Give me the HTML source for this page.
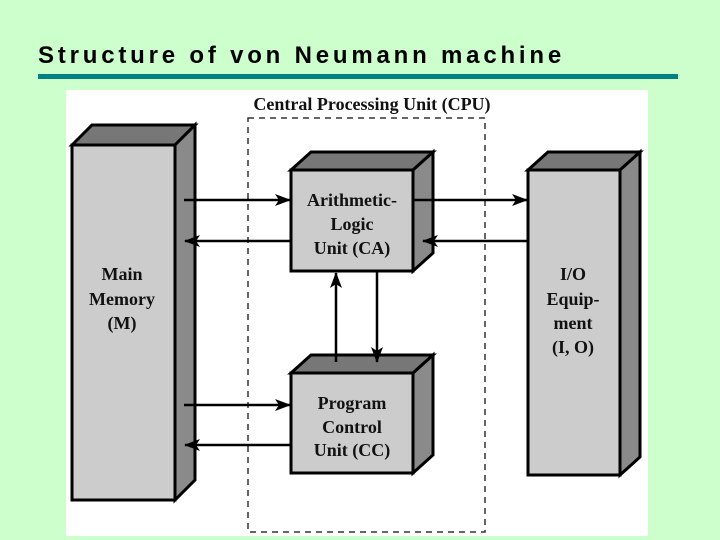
<!DOCTYPE html>
<html><head><style>
body{margin:0;width:720px;height:540px;background:#ccffcc;overflow:hidden;position:relative;font-family:"Liberation Sans",sans-serif}
.t{position:absolute;left:38px;top:42px;font-size:24px;font-weight:bold;letter-spacing:3.8px;color:#000;white-space:nowrap}
.bar{position:absolute;left:38px;top:74px;width:640px;height:5px;background:#008080}
</style></head><body>
<div class="t">Structure of von Neumann machine</div>
<div class="bar"></div>
<svg style="position:absolute;left:0;top:0" width="720" height="540">
<defs><marker id="a" markerWidth="16" markerHeight="12" refX="15" refY="6" orient="auto" markerUnits="userSpaceOnUse"><path d="M0,0 L16,6 L0,12 L4,6z" fill="#000"/></marker></defs>
<rect x="66" y="90" width="582" height="446" fill="#fff"/>
<rect x="248" y="118" width="237" height="414" fill="none" stroke="#333" stroke-width="1.5" stroke-dasharray="6,5"/>
<g stroke="#000" stroke-width="3" stroke-linejoin="miter">
<polygon points="72,145 92,125 195,125 175,145" fill="#777"/>
<polygon points="175,145 195,125 195,480 175,500" fill="#8a8a8a"/>
<rect x="72" y="145" width="103" height="355" fill="#ccc"/>
<polygon points="291,170 311,152 433,152 413,170" fill="#777"/>
<polygon points="413,170 433,152 433,253 413,271" fill="#8a8a8a"/>
<rect x="291" y="170" width="122" height="101" fill="#ccc"/>
<polygon points="291,373 311,355 433,355 413,373" fill="#777"/>
<polygon points="413,373 433,355 433,455 413,473" fill="#8a8a8a"/>
<rect x="291" y="373" width="122" height="100" fill="#ccc"/>
<polygon points="528,170 548,152 640,152 620,170" fill="#777"/>
<polygon points="620,170 640,152 640,457 620,475" fill="#8a8a8a"/>
<rect x="528" y="170" width="92" height="305" fill="#ccc"/>
</g>
<g stroke="#000" stroke-width="2.5" marker-end="url(#a)">
<line x1="184" y1="200" x2="290" y2="200"/>
<line x1="291" y1="241" x2="185" y2="241"/>
<line x1="413" y1="200" x2="527" y2="200"/>
<line x1="528" y1="241" x2="423" y2="241"/>
<line x1="336" y1="362" x2="336" y2="273"/>
<line x1="377" y1="272" x2="377" y2="362"/>
<line x1="184" y1="405" x2="290" y2="405"/>
<line x1="291" y1="445" x2="185" y2="445"/>
</g>
<g font-family="Liberation Serif,serif" font-weight="bold" font-size="18" text-anchor="middle" fill="#111">
<text x="372" y="110">Central Processing Unit (CPU)</text>
<text x="352" y="206">Arithmetic-</text><text x="352" y="230">Logic</text><text x="352" y="254">Unit (CA)</text>
<text x="352" y="409">Program</text><text x="352" y="433">Control</text><text x="352" y="456">Unit (CC)</text>
<text x="122" y="280">Main</text><text x="122" y="305">Memory</text><text x="122" y="329">(M)</text>
<text x="573" y="280">I/O</text><text x="573" y="305">Equip-</text><text x="573" y="329">ment</text><text x="573" y="353">(I, O)</text>
</g>
</svg>
</body></html>
